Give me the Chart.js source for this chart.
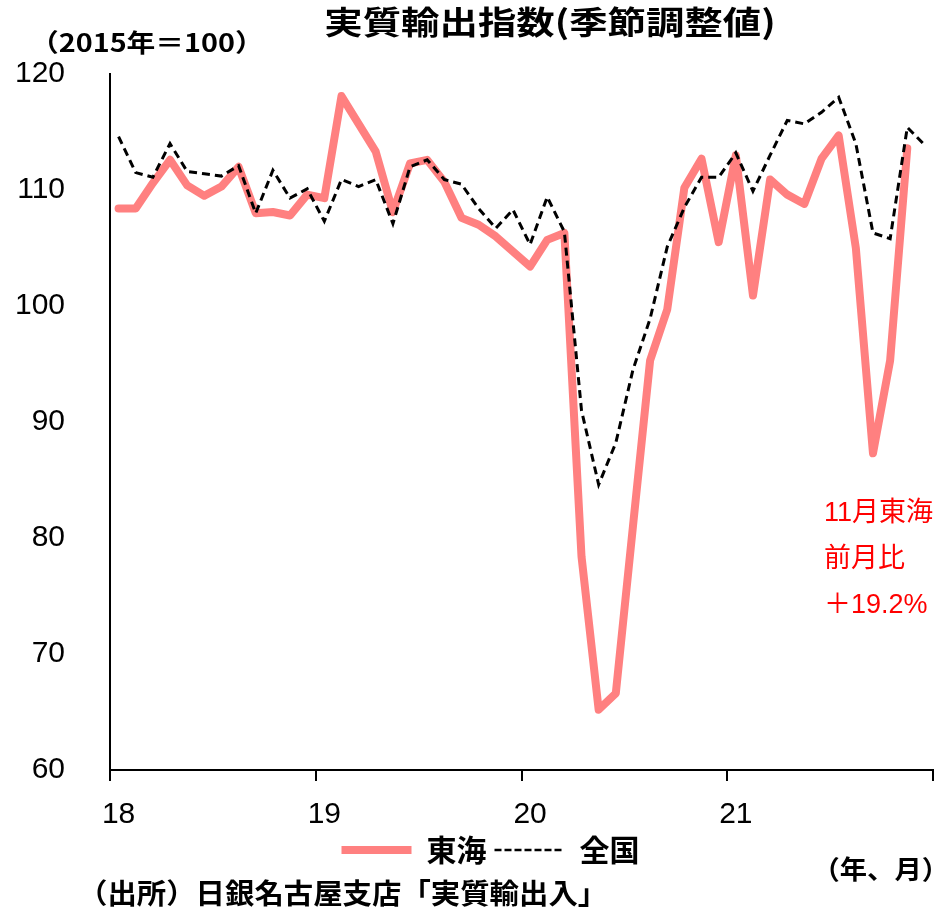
<!DOCTYPE html>
<html lang="ja">
<head>
<meta charset="utf-8">
<title>実質輸出指数(季節調整値)</title>
<script src="https://cdn.jsdelivr.net/npm/chart.js@4/dist/chart.umd.min.js"></script>
<style>
  html, body { margin: 0; padding: 0; background: #fff; }
  #wrap { position: relative; width: 945px; height: 909px; }
</style>
</head>
<body>
<div id="wrap"><canvas id="chart" width="945" height="909"></canvas></div>
<script>
// 年ラベル（各年1月の位置に表示）
const years = ['18', '19', '20', '21'];
const monthsPerYear = 12;

// 東海：2018年1月～2021年11月（2015年＝100）
const tokai = [
  108.4, 108.4, 110.6, 112.6, 110.4, 109.5, 110.3, 112.0, 108.0, 108.1, 107.8, 109.6,
  109.3, 118.1, 115.7, 113.3, 108.1, 112.3, 112.6, 110.7, 107.6, 107.0, 106.0, 104.7,
  103.4, 105.7, 106.3, 78.4, 65.2, 66.6, 81.0, 95.3, 99.7, 110.2, 112.7, 105.5,
  113.0, 100.9, 110.9, 109.6, 108.8, 112.7, 114.7, 105.0, 87.3, 95.3, 113.6
];

// 全国：2018年1月～2021年12月（2015年＝100）
const zenkoku = [
  114.6, 111.5, 111.1, 114.0, 111.6, 111.4, 111.2, 112.1, 108.0, 111.7, 109.3, 110.1,
  107.3, 110.9, 110.3, 110.9, 107.1, 112.0, 112.6, 110.9, 110.5, 108.4, 106.7, 108.3,
  105.3, 109.4, 106.4, 91.0, 84.6, 88.2, 94.5, 98.9, 105.1, 108.5, 111.1, 111.1,
  113.2, 109.9, 113.0, 116.0, 115.7, 116.7, 118.0, 114.0, 106.3, 105.8, 115.4, 113.9
];

const seriesNames = ['東海', '全国'];
const yRange = { min: 60, max: 120, step: 10 };

const chartTitle = '実質輸出指数(季節調整値)';
const unitLabel = '（2015年＝100）';
const axisNote = '（年、月）';
const sourceNote = '（出所）日銀名古屋支店「実質輸出入」';

// 月次カテゴリ（例：'18/1'）
const categories = years.flatMap(y =>
  Array.from({ length: monthsPerYear }, (_, m) => y + '/' + (m + 1)));

const cjkFont = '"Noto Sans CJK JP", "Noto Sans", sans-serif';
const numFont = '"Liberation Sans", Arial, "Noto Sans CJK JP", sans-serif';

// 東海の最新月の前月比
const lastIdx = tokai.length - 1;
const lastMonth = categories[lastIdx].split('/')[1];
const momPct = ((tokai[lastIdx] / tokai[lastIdx - 1] - 1) * 100).toFixed(1);
const noteLines = [lastMonth + '月東海', '前月比', '＋' + momPct + '%'];

function drawText(ctx, text, x, y, font, color, sx, align) {
  ctx.save();
  ctx.font = font;
  ctx.fillStyle = color;
  ctx.textBaseline = 'middle';
  ctx.textAlign = align || 'left';
  ctx.translate(x, y);
  ctx.scale(sx, 1);
  ctx.fillText(text, 0, 0);
  ctx.restore();
}

// タイトル・単位・出所・注記の描画
const notesPlugin = {
  id: 'notes',
  afterDraw(chart) {
    const ctx = chart.ctx;
    drawText(ctx, chartTitle, 550, 22, 'bold 32px ' + cjkFont, '#000', 1.2, 'center');
    drawText(ctx, unitLabel, 30, 42, 'bold 25px ' + cjkFont, '#000', 1.15, 'left');
    drawText(ctx, axisNote, 949, 869, 'bold 26px ' + cjkFont, '#000', 1.05, 'right');
    drawText(ctx, sourceNote, 78, 893, 'bold 28px ' + cjkFont, '#000', 1.05, 'left');
    noteLines.forEach((t, i) => {
      drawText(ctx, t, 824, 514 + i * 46, '27px ' + numFont, '#ff0000', 1.0, 'left');
    });
  }
};

new Chart(document.getElementById('chart'), {
  type: 'line',
  data: {
    labels: categories,
    datasets: [
      {
        label: seriesNames[0],
        data: tokai,
        borderColor: '#ff8080',
        backgroundColor: '#ff8080',
        borderWidth: 8,
        borderCapStyle: 'round',
        borderJoinStyle: 'round',
        pointRadius: 0,
        tension: 0,
        order: 1
      },
      {
        label: seriesNames[1],
        data: zenkoku,
        borderColor: '#000000',
        backgroundColor: '#000000',
        borderWidth: 3,
        borderDash: [8, 5],
        pointRadius: 0,
        tension: 0,
        order: 0
      }
    ]
  },
  options: {
    responsive: false,
    animation: false,
    devicePixelRatio: 1,
    layout: { padding: { top: 74, left: 48, right: 12, bottom: 34 } },
    scales: {
      x: {
        type: 'category',
        offset: true,
        afterFit(scale) { scale.height = 57; },
        grid: {
          offset: true,
          drawOnChartArea: false,
          drawTicks: true,
          tickLength: 11,
          lineWidth: 2,
          color: ctx => (ctx.index === undefined || ctx.index % monthsPerYear === 0) ? '#000' : 'rgba(0,0,0,0)'
        },
        border: { display: true, color: '#000', width: 2 },
        ticks: {
          autoSkip: false,
          maxRotation: 0,
          minRotation: 0,
          padding: 16,
          color: '#000',
          font: { family: numFont, size: 30 },
          callback: (v, i) => i % monthsPerYear === 0 ? years[i / monthsPerYear] : ''
        }
      },
      y: {
        min: yRange.min,
        max: yRange.max,
        afterFit(scale) { scale.width = 62; },
        grid: { display: false, drawTicks: false },
        border: { display: true, color: '#000', width: 2 },
        ticks: {
          stepSize: yRange.step,
          // labels right-aligned 45px left of the axis line
          mirror: true,
          crossAlign: 'far',
          padding: -95,
          color: '#000',
          font: { family: numFont, size: 30 }
        }
      }
    },
    plugins: {
      title: { display: false },
      tooltip: { enabled: false },
      legend: {
        display: true,
        position: 'bottom',
        labels: {
          usePointStyle: true,
          pointStyle: 'line',
          pointStyleWidth: 70,
          boxWidth: 70,
          padding: 8,
          color: '#000',
          font: { family: cjkFont, size: 30, weight: 'bold' },
          sort: (a, b) => a.datasetIndex - b.datasetIndex,
          generateLabels(chart) {
            const items = Chart.defaults.plugins.legend.labels.generateLabels(chart);
            items.forEach(it => {
              if (it.datasetIndex === 1) { it.lineWidth = 2.5; it.lineDash = [7, 3]; }
            });
            return items;
          }
        }
      }
    }
  },
  plugins: [notesPlugin]
});
</script>
</body>
</html>
